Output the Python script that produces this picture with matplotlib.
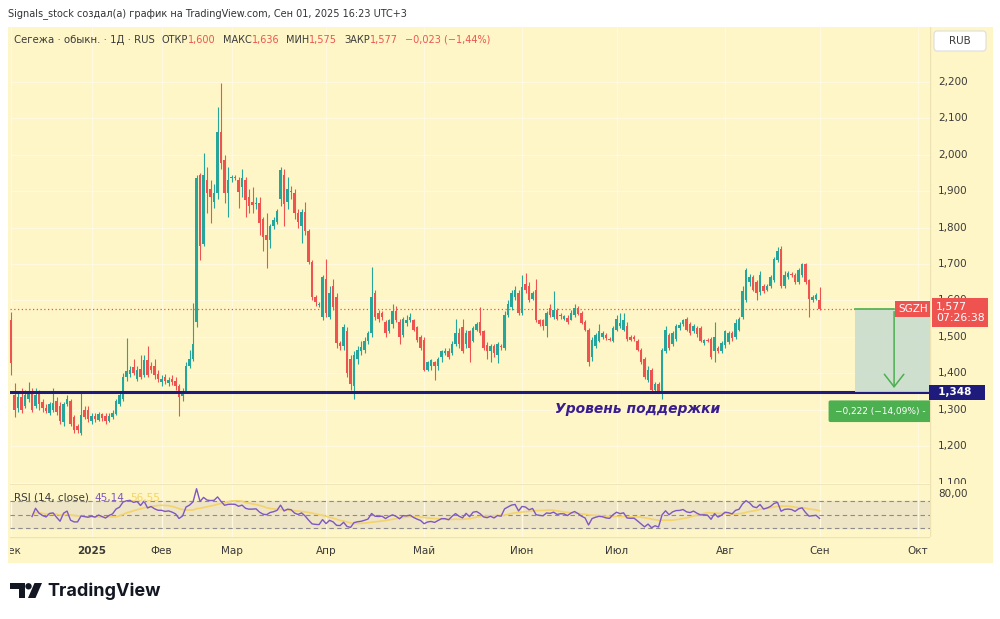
import numpy as np
import pandas as pd
import matplotlib.pyplot as plt
from matplotlib.patches import Rectangle, FancyBboxPatch, Polygon, Circle
from matplotlib.offsetbox import TextArea, HPacker, AnnotationBbox

# daily candles, Dec 2024 .. Sep 01 2025 (rubles)
opens = [
    1.546, 1.340, 1.305, 1.335, 1.310, 1.330, 1.349, 1.310, 1.345, 1.320,
    1.305, 1.292, 1.300, 1.325, 1.310, 1.265, 1.315, 1.325, 1.280, 1.255,
    1.235, 1.300, 1.300, 1.270, 1.282, 1.272, 1.288, 1.283, 1.270, 1.280,
    1.288, 1.315, 1.330, 1.390, 1.398, 1.418, 1.385, 1.413, 1.395, 1.436,
    1.420, 1.420, 1.398, 1.375, 1.390, 1.372, 1.385, 1.380, 1.365, 1.338,
    1.350, 1.420, 1.440, 1.540, 1.945, 1.755, 1.931, 1.905, 1.870, 1.894,
    2.063, 1.985, 1.894, 1.935, 1.938, 1.931, 1.912, 1.931, 1.885, 1.870,
    1.865, 1.867, 1.825, 1.780, 1.765, 1.805, 1.815, 1.880, 1.945, 1.870,
    1.900, 1.895, 1.840, 1.805, 1.843, 1.790, 1.705, 1.610, 1.588, 1.555,
    1.660, 1.555, 1.640, 1.610, 1.483, 1.475, 1.515, 1.440, 1.365, 1.440,
    1.460, 1.465, 1.490, 1.510, 1.620, 1.565, 1.565, 1.540, 1.515, 1.535,
    1.570, 1.540, 1.505, 1.538, 1.545, 1.545, 1.527, 1.500, 1.492, 1.410,
    1.420, 1.430, 1.420, 1.445, 1.455, 1.462, 1.455, 1.480, 1.510, 1.527,
    1.480, 1.515, 1.490, 1.520, 1.540, 1.515, 1.478, 1.460, 1.475, 1.450,
    1.475, 1.470, 1.560, 1.583, 1.610, 1.620, 1.565, 1.645, 1.640, 1.605,
    1.630, 1.545, 1.545, 1.530, 1.580, 1.555, 1.575, 1.560, 1.550, 1.552,
    1.545, 1.560, 1.578, 1.565, 1.540, 1.520, 1.445, 1.475, 1.490, 1.500,
    1.505, 1.495, 1.490, 1.520, 1.530, 1.520, 1.530, 1.500, 1.500, 1.490,
    1.465, 1.440, 1.382, 1.410, 1.355, 1.370, 1.350, 1.460, 1.505, 1.480,
    1.495, 1.525, 1.535, 1.550, 1.535, 1.515, 1.525, 1.525, 1.483, 1.490,
    1.495, 1.460, 1.470, 1.462, 1.478, 1.485, 1.510, 1.500, 1.520, 1.555,
    1.600, 1.650, 1.665, 1.650, 1.622, 1.640, 1.630, 1.640, 1.655, 1.711,
    1.740, 1.640, 1.665, 1.672, 1.670, 1.650, 1.670, 1.700, 1.655, 1.600,
    1.605, 1.600,
]
highs = [
    1.568, 1.372, 1.350, 1.360, 1.355, 1.377, 1.360, 1.360, 1.355, 1.330,
    1.315, 1.320, 1.360, 1.335, 1.320, 1.320, 1.340, 1.330, 1.285, 1.260,
    1.349, 1.310, 1.310, 1.290, 1.290, 1.295, 1.292, 1.290, 1.290, 1.298,
    1.330, 1.350, 1.400, 1.496, 1.420, 1.440, 1.420, 1.450, 1.450, 1.475,
    1.430, 1.440, 1.410, 1.395, 1.398, 1.390, 1.395, 1.390, 1.370, 1.360,
    1.430, 1.465, 1.592, 1.945, 1.950, 2.005, 1.967, 1.931, 1.920, 2.132,
    2.196, 2.000, 1.967, 1.945, 1.945, 1.940, 1.960, 1.940, 1.905, 1.912,
    1.885, 1.885, 1.830, 1.840, 1.810, 1.830, 1.850, 1.967, 1.960, 1.940,
    1.915, 1.905, 1.850, 1.850, 1.870, 1.795, 1.710, 1.615, 1.595, 1.670,
    1.715, 1.640, 1.660, 1.620, 1.490, 1.535, 1.527, 1.450, 1.460, 1.475,
    1.490, 1.500, 1.515, 1.692, 1.630, 1.575, 1.570, 1.545, 1.550, 1.590,
    1.585, 1.550, 1.555, 1.560, 1.565, 1.550, 1.530, 1.505, 1.500, 1.435,
    1.440, 1.435, 1.445, 1.465, 1.470, 1.470, 1.490, 1.550, 1.525, 1.550,
    1.520, 1.520, 1.530, 1.540, 1.582, 1.520, 1.485, 1.480, 1.480, 1.485,
    1.480, 1.570, 1.600, 1.630, 1.640, 1.630, 1.670, 1.675, 1.650, 1.625,
    1.660, 1.550, 1.550, 1.570, 1.590, 1.625, 1.580, 1.565, 1.560, 1.560,
    1.575, 1.590, 1.585, 1.570, 1.545, 1.525, 1.500, 1.510, 1.535, 1.515,
    1.510, 1.500, 1.530, 1.560, 1.565, 1.566, 1.540, 1.505, 1.505, 1.495,
    1.470, 1.445, 1.420, 1.415, 1.375, 1.375, 1.470, 1.530, 1.510, 1.515,
    1.535, 1.540, 1.550, 1.555, 1.540, 1.535, 1.530, 1.530, 1.495, 1.498,
    1.500, 1.540, 1.475, 1.488, 1.520, 1.515, 1.515, 1.550, 1.555, 1.640,
    1.690, 1.672, 1.670, 1.655, 1.680, 1.645, 1.645, 1.670, 1.720, 1.748,
    1.750, 1.680, 1.680, 1.678, 1.675, 1.690, 1.702, 1.702, 1.660, 1.615,
    1.620, 1.636,
]
lows = [
    1.395, 1.280, 1.295, 1.290, 1.305, 1.320, 1.295, 1.305, 1.300, 1.295,
    1.290, 1.285, 1.295, 1.285, 1.260, 1.255, 1.310, 1.255, 1.235, 1.235,
    1.230, 1.275, 1.265, 1.262, 1.265, 1.268, 1.270, 1.262, 1.265, 1.275,
    1.285, 1.310, 1.325, 1.380, 1.390, 1.395, 1.378, 1.385, 1.390, 1.390,
    1.400, 1.385, 1.375, 1.365, 1.370, 1.365, 1.368, 1.355, 1.283, 1.325,
    1.345, 1.415, 1.435, 1.528, 1.710, 1.750, 1.840, 1.812, 1.855, 1.880,
    1.960, 1.867, 1.830, 1.925, 1.930, 1.855, 1.885, 1.830, 1.840, 1.840,
    1.850, 1.780, 1.735, 1.690, 1.745, 1.795, 1.810, 1.860, 1.805, 1.850,
    1.880, 1.825, 1.800, 1.757, 1.780, 1.700, 1.600, 1.585, 1.583, 1.547,
    1.555, 1.548, 1.575, 1.470, 1.465, 1.465, 1.390, 1.355, 1.330, 1.425,
    1.450, 1.455, 1.480, 1.500, 1.545, 1.540, 1.545, 1.500, 1.510, 1.525,
    1.540, 1.480, 1.500, 1.530, 1.540, 1.515, 1.485, 1.465, 1.405, 1.405,
    1.410, 1.382, 1.410, 1.430, 1.450, 1.440, 1.450, 1.475, 1.470, 1.455,
    1.470, 1.430, 1.485, 1.515, 1.505, 1.465, 1.440, 1.430, 1.445, 1.427,
    1.465, 1.465, 1.555, 1.575, 1.600, 1.560, 1.560, 1.620, 1.595, 1.600,
    1.540, 1.530, 1.520, 1.500, 1.555, 1.550, 1.545, 1.550, 1.545, 1.535,
    1.545, 1.555, 1.560, 1.535, 1.515, 1.420, 1.435, 1.470, 1.485, 1.495,
    1.492, 1.488, 1.485, 1.515, 1.525, 1.515, 1.490, 1.488, 1.488, 1.460,
    1.425, 1.385, 1.375, 1.345, 1.350, 1.345, 1.330, 1.455, 1.465, 1.475,
    1.490, 1.520, 1.530, 1.515, 1.505, 1.510, 1.500, 1.485, 1.478, 1.485,
    1.440, 1.430, 1.455, 1.455, 1.470, 1.480, 1.490, 1.495, 1.515, 1.550,
    1.595, 1.640, 1.625, 1.600, 1.615, 1.620, 1.625, 1.635, 1.650, 1.705,
    1.635, 1.635, 1.660, 1.665, 1.645, 1.645, 1.665, 1.645, 1.555, 1.595,
    1.600, 1.575,
]
closes = [
    1.428, 1.300, 1.335, 1.300, 1.340, 1.349, 1.300, 1.340, 1.317, 1.305,
    1.297, 1.315, 1.318, 1.295, 1.270, 1.315, 1.330, 1.262, 1.245, 1.245,
    1.285, 1.280, 1.275, 1.282, 1.275, 1.288, 1.278, 1.268, 1.283, 1.292,
    1.325, 1.340, 1.390, 1.405, 1.410, 1.400, 1.410, 1.390, 1.436, 1.395,
    1.410, 1.395, 1.385, 1.385, 1.378, 1.382, 1.375, 1.365, 1.335, 1.350,
    1.420, 1.440, 1.480, 1.935, 1.750, 1.945, 1.894, 1.885, 1.894, 2.063,
    1.977, 1.894, 1.931, 1.938, 1.935, 1.899, 1.935, 1.876, 1.860, 1.862,
    1.868, 1.812, 1.775, 1.765, 1.805, 1.820, 1.845, 1.958, 1.865, 1.905,
    1.897, 1.840, 1.815, 1.843, 1.790, 1.705, 1.610, 1.595, 1.590, 1.665,
    1.565, 1.620, 1.582, 1.483, 1.475, 1.527, 1.400, 1.370, 1.450, 1.465,
    1.473, 1.490, 1.510, 1.610, 1.555, 1.550, 1.555, 1.510, 1.545, 1.570,
    1.545, 1.500, 1.548, 1.545, 1.555, 1.520, 1.492, 1.470, 1.410, 1.430,
    1.436, 1.420, 1.440, 1.460, 1.460, 1.445, 1.480, 1.510, 1.480, 1.460,
    1.510, 1.470, 1.525, 1.535, 1.510, 1.470, 1.460, 1.475, 1.455, 1.480,
    1.472, 1.560, 1.590, 1.620, 1.630, 1.565, 1.637, 1.630, 1.600, 1.620,
    1.545, 1.535, 1.530, 1.565, 1.560, 1.575, 1.550, 1.558, 1.556, 1.540,
    1.565, 1.580, 1.562, 1.537, 1.520, 1.430, 1.491, 1.505, 1.515, 1.510,
    1.497, 1.492, 1.525, 1.550, 1.537, 1.545, 1.495, 1.492, 1.493, 1.465,
    1.430, 1.390, 1.410, 1.355, 1.370, 1.350, 1.465, 1.520, 1.470, 1.510,
    1.530, 1.532, 1.545, 1.520, 1.512, 1.530, 1.508, 1.490, 1.492, 1.488,
    1.445, 1.500, 1.462, 1.482, 1.515, 1.510, 1.498, 1.537, 1.550, 1.625,
    1.685, 1.665, 1.630, 1.620, 1.670, 1.625, 1.640, 1.665, 1.715, 1.735,
    1.640, 1.670, 1.675, 1.670, 1.650, 1.685, 1.700, 1.650, 1.605, 1.610,
    1.615, 1.577,
]

month_labels = ["Дек", "2025", "Фев", "Мар", "Апр", "Май", "Июн", "Июл", "Авг", "Сен", "Окт"]
month_bars = [0, 23, 43, 63, 90, 118, 146, 173, 204, 231, 259]
price_ticks = [1.1, 1.2, 1.3, 1.4, 1.5, 1.6, 1.7, 1.8, 1.9, 2.0, 2.1, 2.2]
support_level = 1.348
last_close = 1.577
header_values = [("ОТКР", "1,600"), ("МАКС", "1,636"), ("МИН", "1,575"), ("ЗАКР", "1,577")]
header_change = "−0,023 (−1,44%)"
rsi_last, rsi_ma_last = "45,14", "56,55"
measure_text = "−0,222 (−14,09%) -"

W, H = 1000, 619
BG = "#fef6c6"
GRID = "#fffadf"
SEP = "#ece2b4"
GREEN = "#26a69a"
RED = "#ef5350"
NAVY = "#1f1b7c"
INDIGO = "#3a1d8e"
MGREEN = "#4caf50"
TXT = "#3a3a3a"
PURPLE = "#7e57c2"
GOLD = "#f3d36a"
FS = 7.5
FS_HEAD = 7.0

BAR_PX = 3.5
XLIM = (-0.3, -0.3 + 920 / BAR_PX)
PLIM = (1.096, 2.351)
RLIM = (16.7, 95.2)


def frac(x0, y0, x1, y1):
    return [x0 / W, 1 - y1 / H, (x1 - x0) / W, (y1 - y0) / H]


def fmt(v):
    return f"{v:.3f}".replace(".", ",")


fig = plt.figure(figsize=(W / 100, H / 100), dpi=100)
fig.patch.set_facecolor("white")

base = fig.add_axes([0, 0, 1, 1], zorder=-5)
base.set_xlim(0, W)
base.set_ylim(H, 0)
base.axis("off")
base.add_patch(Rectangle((8, 27), 985, 536, fc=BG, ec="none"))

ax = fig.add_axes(frac(10, 27, 930, 484))
axp = fig.add_axes(frac(930, 27, 993, 484))
axr = fig.add_axes(frac(10, 484, 930, 537))
axrp = fig.add_axes(frac(930, 484, 993, 537))
axt = fig.add_axes(frac(10, 537, 930, 563))
for a in (ax, axp, axr, axrp, axt):
    a.set_facecolor(BG)
    a.set_xticks([])
    a.set_yticks([])
    for s in a.spines.values():
        s.set_visible(False)
for a in (ax, axr, axt):
    a.set_xlim(*XLIM)
ax.set_ylim(*PLIM)
axp.set_ylim(*PLIM)
axr.set_ylim(*RLIM)
axrp.set_ylim(*RLIM)
axt.set_ylim(0, 1)

# separators
axp.axvline(0, color=SEP, lw=1)
axrp.axvline(0, color=SEP, lw=1)
axr.axhline(RLIM[1], color=SEP, lw=1.2)
axt.axhline(1, color=SEP, lw=1)

# grid
ax.vlines(month_bars, *PLIM, color=GRID, lw=1, zorder=0)
ax.hlines(price_ticks, *XLIM, color=GRID, lw=1, zorder=0)

# candles
o, h, l, c = (np.array(v) for v in (opens, highs, lows, closes))
idx = np.arange(len(c))
cols = np.where(c >= o, GREEN, RED)
ax.vlines(idx, l, h, colors=cols, lw=0.8, zorder=3)
ax.bar(idx, np.maximum(np.abs(c - o), 0.003), bottom=np.minimum(o, c),
       width=0.7, color=cols, lw=0, zorder=4)

# last price and support
ax.axhline(last_close, color=RED, lw=0.9, ls=(0, (1, 2)), zorder=2)
ax.axhline(support_level, color=NAVY, lw=2.2, zorder=5)
ax.text(155.5, support_level - 0.045, "Уровень поддержки", color=INDIGO,
        fontsize=10, fontweight="bold", fontstyle="italic", va="center", zorder=6)

# price range measure
m_left, m_arrow = 241.1, 252.3
ax.add_patch(Rectangle((m_left, support_level), XLIM[1] - m_left, last_close - support_level,
                       fc="#c9ddd0", ec="none", alpha=0.9, zorder=6))
ax.plot([m_left, m_arrow], [last_close, last_close], color=MGREEN, lw=1.2, zorder=7)
ax.annotate("", xy=(m_arrow, support_level + 0.004), xytext=(m_arrow, last_close),
            arrowprops=dict(arrowstyle="->,head_width=0.35,head_length=0.45",
                            color=MGREEN, lw=1.1, mutation_scale=20), zorder=7)
ax.annotate(measure_text, xy=(m_left, support_level), xytext=(-20, -19),
            textcoords="offset pixels", ha="left", va="center", color="white",
            fontsize=6.5, zorder=8, annotation_clip=False,
            bbox=dict(boxstyle="round,pad=0.7,rounding_size=0.2", fc=MGREEN, ec="none"))
ax.texts[-1].set_clip_on(True)
ax.text(0.998, last_close, "SGZH", transform=ax.get_yaxis_transform(), ha="right",
        va="center", color="white", fontsize=FS, zorder=9,
        bbox=dict(boxstyle="square,pad=0.3", fc=RED, ec="none"))

# price scale
for p in price_ticks:
    axp.text(0.13, p, fmt(p), transform=axp.get_yaxis_transform(), va="center",
             ha="left", fontsize=FS, color=TXT, clip_on=True)
axp.annotate(fmt(last_close) + "\n07:26:38", xy=(0.0, last_close), xycoords=axp.get_yaxis_transform(),
             xytext=(6, 7), textcoords="offset pixels", va="top", ha="left", color="white",
             fontsize=FS + 0.3, linespacing=1.2,
             bbox=dict(boxstyle="square,pad=0.35", fc=RED, ec="none"))
axp.text(0.02, support_level, "  " + fmt(support_level) + "   ", transform=axp.get_yaxis_transform(),
         va="center", ha="left", color="white", fontsize=FS, fontweight="bold",
         bbox=dict(boxstyle="square,pad=0.25", fc=NAVY, ec="none"))
axrp.text(0.13, 80, "80,00", va="center", ha="left", fontsize=FS, color=TXT,
          transform=axrp.get_yaxis_transform())

# RSI pane (RSI 14 of the closes, SMA 14 of RSI)
s = pd.Series(closes[1:], index=idx[1:])
d = s.diff()
gain = d.clip(lower=0).ewm(alpha=1 / 14, adjust=True).mean()
loss = (-d.clip(upper=0)).ewm(alpha=1 / 14, adjust=True).mean()
rsi = (100 - 100 / (1 + gain / loss)).iloc[5:]
rsi_ma = rsi.rolling(14, min_periods=1).mean()
axr.axhspan(30, 70, color="#eee4c6", zorder=0)
axr.vlines(month_bars, *RLIM, color=GRID, lw=1, zorder=0.5)
for lev in (70, 50, 30):
    axr.axhline(lev, color="#8c8c8c", lw=0.8, ls=(0, (4, 3)), zorder=1)
axr.plot(rsi_ma.index, rsi_ma.values, color=GOLD, lw=1.2, zorder=2)
axr.plot(rsi.index, rsi.values, color=PURPLE, lw=1.0, zorder=3)

# time scale
for b, lab in zip(month_bars, month_labels):
    axt.text(b, 0.45, lab, ha="center", va="center", fontsize=FS, color=TXT,
             fontweight="bold" if lab == "2025" else "normal",
             transform=axt.get_xaxis_transform(), clip_on=True)

# overlay: header, legends, logo
ov = fig.add_axes([0, 0, 1, 1], zorder=10)
ov.set_xlim(0, W)
ov.set_ylim(H, 0)
ov.axis("off")
ov.patch.set_alpha(0)
ov.text(8, 14, "Signals_stock создал(а) график на TradingView.com, Сен 01, 2025 16:23 UTC+3",
        fontsize=FS_HEAD, color="#333333", va="center", ha="left")


def ta(txt, col, size=FS, **kw):
    return TextArea(txt, textprops=dict(color=col, fontsize=size, **kw))


parts = [ta("Сегежа · обыкн. · 1Д · RUS", TXT, FS_HEAD + 0.3)]
for lab, val in header_values:
    parts.append(HPacker(children=[ta(lab, TXT, FS_HEAD), ta(val, RED, FS_HEAD)], sep=0, pad=0))
parts.append(ta(header_change, RED, FS_HEAD))
legend = HPacker(children=parts, sep=5, pad=0, align="baseline")
ov.add_artist(AnnotationBbox(legend, (14, 40), xycoords="data", box_alignment=(0, 0.5),
                             frameon=False, pad=0))

rsi_leg = HPacker(children=[ta("RSI (14, close)", TXT), ta(rsi_last, PURPLE), ta(rsi_ma_last, GOLD)],
                  sep=4, pad=0, align="baseline")
ov.add_artist(AnnotationBbox(rsi_leg, (14, 498), xycoords="data", box_alignment=(0, 0.5),
                             frameon=False, pad=0))

ov.add_patch(FancyBboxPatch((934, 31), 52, 20, boxstyle="round,pad=0,rounding_size=3",
                            fc="white", ec="#dddddd", lw=0.8))
ov.text(960, 41, "RUB", fontsize=FS, color=TXT, ha="center", va="center")

# TradingView logo
ov.add_patch(Polygon([(10, 583), (25, 583), (25, 598), (19, 598), (19, 589), (10, 589)],
                     closed=True, fc="#131722", ec="none"))
ov.add_patch(Circle((28.5, 586.3), 3.2, fc="#131722", ec="none"))
ov.add_patch(Polygon([(34.5, 583), (42, 583), (35.5, 598), (28, 598)], closed=True,
                     fc="#131722", ec="none"))
ov.text(47, 591, "TradingView", fontsize=13, fontweight="bold", family="Inter",
        color="#131722", va="center", ha="left")

fig.savefig("out.png", dpi=100, facecolor="white")
